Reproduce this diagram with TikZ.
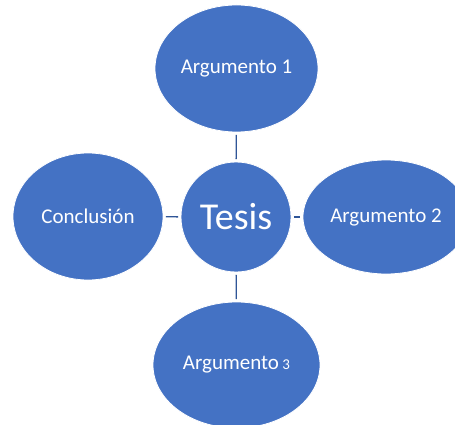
\documentclass[tikz,border=0pt]{standalone}
\usepackage{fontspec}
\setmainfont{Carlito}
\usetikzlibrary{shapes.geometric}
\definecolor{nodeblue}{HTML}{4472C4}
\definecolor{linkblue}{HTML}{2F5597}
\begin{document}
\begin{tikzpicture}[x=1pt,y=-1pt,
  blob/.style={ellipse,fill=nodeblue,draw=white,line width=0.8pt,inner sep=0pt,text=white,font=\fontsize{21}{24}\selectfont},
  link/.style={draw=linkblue,line width=1.4pt,shorten <=2.5pt,shorten >=2.5pt}]
\useasboundingbox (0,0) rectangle (455,425);
\clip (0,0) rectangle (455,425);
\fill[white] (0,0) rectangle (455,425);
\node[blob,minimum width=163pt,minimum height=127pt] (a1) at (236.5,68.5) {Argumento 1};
\node[blob,minimum width=150pt,minimum height=127pt] (con) at (88,216.5) {Conclusión};
\node[blob,minimum width=166pt,minimum height=114pt] (a2) at (386,217) {Argumento 2};
\node[blob,minimum width=167pt,minimum height=126pt] (a3) at (236.5,365) {Argumento\,{\fontsize{15}{18}\selectfont 3}};
\node[blob,circle,minimum size=110pt,font=\fontsize{38}{42}\selectfont] (t) at (236,217) {Tesis};
\draw[link] (a1) -- (t);
\draw[link] (con) -- (t);
\draw[link] (t) -- (a2);
\draw[link] (t) -- (a3);
\end{tikzpicture}
\end{document}
